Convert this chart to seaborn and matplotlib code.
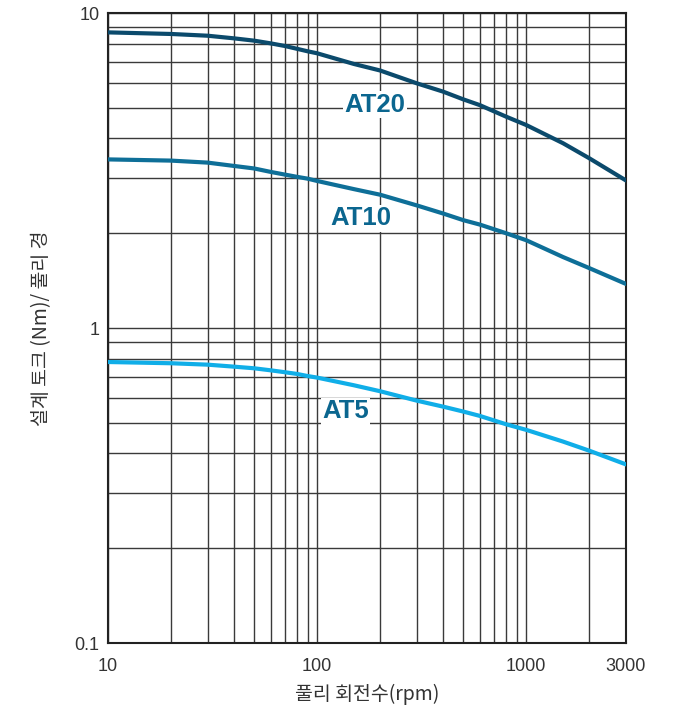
import numpy as np
import pandas as pd
import seaborn as sns
import matplotlib.pyplot as plt
from matplotlib.ticker import FixedLocator, NullFormatter, LogLocator

# chart data
rpm = [10, 20, 30, 40, 50, 60, 70, 80, 90, 100, 150, 200, 300, 400, 500, 600, 800, 1000, 1500, 2000, 3000]
at20 = [8.68, 8.58, 8.47, 8.31, 8.17, 8.01, 7.86, 7.70, 7.56, 7.45, 6.89, 6.57, 5.98, 5.63, 5.32, 5.10,
        4.69, 4.41, 3.86, 3.46, 2.94]
at10 = [3.43, 3.40, 3.35, 3.27, 3.21, 3.13, 3.07, 3.02, 2.98, 2.93, 2.76, 2.65, 2.45, 2.31, 2.20, 2.13,
        2.00, 1.90, 1.68, 1.55, 1.38]
at5 = [0.780, 0.773, 0.765, 0.754, 0.745, 0.734, 0.724, 0.715, 0.704, 0.696, 0.658, 0.630, 0.588, 0.563,
       0.543, 0.526, 0.495, 0.475, 0.436, 0.408, 0.369]
series = ['AT20', 'AT10', 'AT5']
x_ticks = [10, 100, 1000, 3000]
y_ticks = [0.1, 1, 10]

df = pd.DataFrame({
    'rpm': rpm * 3,
    'torque': at20 + at10 + at5,
    'belt': ['AT20'] * len(rpm) + ['AT10'] * len(rpm) + ['AT5'] * len(rpm),
})

sns.set_style('white')
plt.rcParams['font.family'] = ['Noto Sans CJK KR', 'DejaVu Sans']

colors = {'AT20': '#0b4a6c', 'AT10': '#0e6f98', 'AT5': '#10aee8'}

fig = plt.figure(figsize=(6.74, 7.11), dpi=100)
ax = fig.add_axes([0.1602, 0.0956, 0.7686, 0.8861])

ax.set_xscale('log')
ax.set_yscale('log')
ax.set_xlim(10, 3000)
ax.set_ylim(0.1, 10)

# grid lines on every 1..9 multiple
ax.xaxis.set_minor_locator(LogLocator(base=10, subs=np.arange(2, 10)))
ax.yaxis.set_minor_locator(LogLocator(base=10, subs=np.arange(2, 10)))
ax.grid(True, which='both', color='#3a3a3a', lw=1.0, zorder=0)
ax.set_axisbelow(True)

sns.lineplot(data=df, x='rpm', y='torque', hue='belt', palette=colors,
             lw=3.0, legend=False, ax=ax, zorder=3)

ax.xaxis.set_major_locator(FixedLocator(x_ticks))
ax.set_xticklabels([str(t) for t in x_ticks])
ax.yaxis.set_major_locator(FixedLocator(y_ticks))
ax.set_yticklabels(['0.1', '1', '10'])
ax.xaxis.set_minor_formatter(NullFormatter())
ax.yaxis.set_minor_formatter(NullFormatter())
ax.tick_params(axis='both', which='both', length=0, labelsize=13, colors='#333333')
ax.tick_params(axis='x', pad=11)
ax.tick_params(axis='y', pad=6)
for lab in ax.get_xticklabels() + ax.get_yticklabels():
    lab.set_family('Liberation Sans')

for s in ax.spines.values():
    s.set_color('#222222')
    s.set_linewidth(1.5)

# curve labels (left edge, baseline)
label_pos = {'AT20': (135, 4.86), 'AT10': (116, 2.12), 'AT5': (106, 0.517)}
for name in series:
    lx, ly = label_pos[name]
    ax.text(lx, ly, name, color='#0b668f', fontsize=18.5, fontweight='bold',
            family='Liberation Sans', ha='left', va='baseline', zorder=4,
            bbox=dict(facecolor='white', edgecolor='none', pad=1.0))

ax.set_xlabel('풀리 회전수(rpm)', fontsize=14, color='#333333', labelpad=6)
ax.set_ylabel('설계 토크 (Nm)/ 풀리 경', fontsize=14, color='#333333', labelpad=16)

fig.savefig('out.png', dpi=100)
